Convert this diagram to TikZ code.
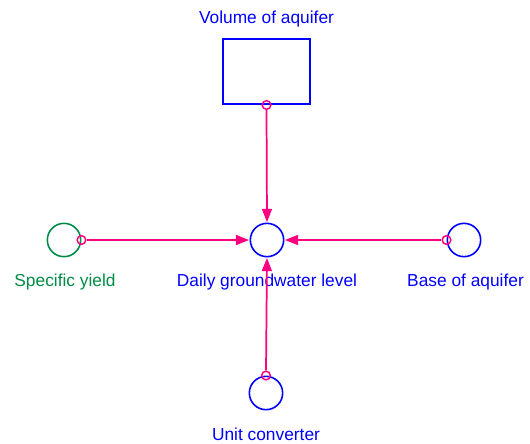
\documentclass[tikz,border=0pt]{standalone}
\usepackage{fontspec}
\setmainfont{Liberation Sans}
\usetikzlibrary{arrows.meta}
\definecolor{varblue}{RGB}{0,0,255}
\definecolor{vargreen}{RGB}{0,140,70}
\definecolor{linkpink}{RGB}{255,0,128}
\tikzset{
  aux/.style={circle, draw=varblue, line width=1.2pt, minimum size=25pt, inner sep=0pt},
  auxg/.style={aux, draw=vargreen},
  stock/.style={rectangle, draw=varblue, line width=1.2pt, minimum width=65pt, minimum height=49pt, inner sep=0pt},
  lbl/.style={anchor=base, inner sep=0pt, font=\fontsize{13}{15}\selectfont},
  tail/.style={circle, draw=linkpink, line width=1.1pt, minimum size=6.5pt, inner sep=0pt},
  link/.style={draw=linkpink, line width=1.3pt, -{Triangle[length=10pt,width=7.5pt]}, shorten >=0.3pt}
}
\begin{document}
\begin{tikzpicture}[x=0.75pt, y=-0.75pt]
\useasboundingbox (0,0) rectangle (530,443);
% nodes
\node[stock] (vol) at (266.5,71.5) {};
\node[auxg] (sy) at (64,240) {};
\node[aux] (dgl) at (267,240) {};
\node[aux] (base) at (464,240) {};
\node[aux] (unit) at (266,393) {};
% labels
\node[lbl, text=varblue] (lvol) at (266.5,23) {Volume of aquifer};
\node[lbl, text=vargreen] (lsy) at (65,286) {Specific yield};
\node[lbl, text=varblue] (ldgl) at (267,286) {Daily groundwater level};
\node[lbl, text=varblue] (lbase) at (465.5,286) {Base of aquifer};
\node[lbl, text=varblue] (lunit) at (266,440) {Unit converter};
% link tails
\node[tail] (tvol) at (vol.south) {};
\node[tail] (tsy) at (sy.east) {};
\node[tail] (tbase) at (base.west) {};
\node[tail] (tunit) at (unit.north) {};
% links
\draw[link] (tvol.south) -- (dgl.north);
\draw[link] (tsy.east) -- (dgl.west);
\draw[link] (tbase.west) -- (dgl.east);
\draw[link] (tunit.north) -- (dgl.south);
\end{tikzpicture}
\end{document}
